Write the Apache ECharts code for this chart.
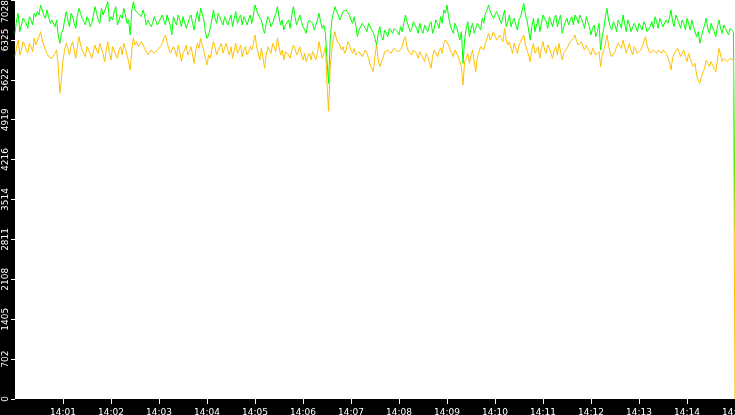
<!DOCTYPE html>
<html>
<head>
<meta charset="utf-8">
<script src="https://cdn.jsdelivr.net/npm/echarts@6/dist/echarts.min.js"></script>
<style>
html,body{margin:0;padding:0;background:#000;}
#chart{width:735px;height:415px;}
</style>
</head>
<body>
<div id="chart"></div>
<script>
// samples every 2 s from 14:00:00: "Even" = t 0,4,8..900 ; "Odd" = t 2,6,10..898
var xTickLabels = ['14:00','14:01','14:02','14:03','14:04','14:05','14:06','14:07','14:08','14:09','14:10','14:11','14:12','14:13','14:14','14:15'];
var yTickLabels = ['0','702','1405','2108','2811','3514','4216','4919','5622','6325','7028'];
var yMax = 7028;

var greenEven = [
6441,6793,6588,6705,6529,6676,6793,6823,6940,6764,
6852,6617,6705,6676,6265,6500,6823,6558,6734,6529,
6881,6705,6588,6676,6617,6911,6676,6881,6734,6999,
6734,6823,6588,6764,6881,6617,6412,6999,6881,6823,
6852,6588,6705,6617,6734,6646,6764,6588,6734,6412,
6646,6764,6558,6705,6617,6764,6500,6823,6881,6676,
6353,6529,6852,6617,6734,6588,6764,6676,6558,6823,
6705,6588,6676,6617,6617,6940,6764,6676,6441,6734,
6558,6705,6911,6588,6500,6617,6529,6911,6588,6764,
6558,6441,6676,6617,6588,6793,6529,6441,5560,6676,
6911,6764,6705,6793,6881,6676,6734,6382,6529,6588,
6470,6558,6441,6235,6558,6323,6470,6529,6441,6500,
6412,6470,6764,6617,6529,6617,6441,6500,6588,6470,
6646,6529,6617,6734,6852,6940,6588,6441,6558,6323,
5913,6529,6382,6617,6470,6588,6705,6793,6940,6793,
6676,6764,6617,6852,6646,6558,6705,6500,6734,6969,
6676,6323,6705,6588,6470,6764,6646,6734,6558,6764,
6676,6441,6646,6588,6734,6764,6617,6705,6529,6646,
6412,6588,6470,6147,6529,6881,6558,6646,6470,6617,
6764,6470,6588,6441,6558,6617,6500,6588,6470,6646,
6734,6529,6676,6588,6617,6852,6558,6734,6529,6617,
6705,6500,6558,6382,6265,6500,6705,6441,6588,6382,
6676,6441,6529,6412,6500,2976
];
var greenOdd = [
6676,6470,6705,6617,6734,6588,6734,6764,6852,6705,
6734,6676,6558,6412,6441,6676,6676,6793,6617,6764,
6793,6646,6734,6558,6764,6793,6617,6764,6911,6646,
6676,6911,6676,6705,6764,6676,6852,6852,6793,6734,
6764,6676,6558,6734,6588,6617,6676,6764,6588,6734,
6588,6676,6734,6529,6705,6617,6705,6646,6793,6470,
6412,6676,6705,6793,6646,6734,6588,6764,6705,6617,
6764,6734,6588,6764,6764,6852,6793,6529,6617,6676,
6617,6793,6734,6676,6588,6676,6764,6734,6676,6646,
6500,6617,6705,6500,6676,6646,6588,5971,6323,6793,
6823,6676,6823,6852,6764,6617,6588,6500,6617,6529,
6617,6500,6353,6441,6382,6500,6382,6558,6529,6470,
6558,6617,6646,6470,6646,6529,6617,6441,6529,6588,
6441,6676,6529,6617,6793,6734,6500,6617,6441,6470,
6323,6646,6529,6441,6617,6500,6617,6852,6823,6705,
6823,6676,6734,6558,6764,6646,6588,6676,6852,6764,
6500,6558,6470,6705,6617,6734,6529,6646,6705,6558,
6764,6558,6705,6676,6588,6705,6764,6617,6734,6558,
6529,6382,6617,6382,6734,6676,6500,6588,6676,6529,
6617,6676,6470,6617,6470,6558,6646,6470,6558,6529,
6646,6705,6558,6676,6705,6646,6764,6617,6676,6500,
6617,6676,6470,6470,6382,6588,6529,6617,6470,6558,
6529,6588,6500,6529,6470
];

var yellowEven = [
6030,6323,6147,6235,6089,6206,6353,6265,6470,6235,
6089,6030,6030,6147,5384,5971,6265,6059,6294,6001,
6382,6147,6030,6147,6001,6235,6089,6177,5942,6294,
5971,6147,6001,6206,6265,6059,5795,6353,6294,6177,
6265,6118,6089,6118,6089,6147,6265,6412,6177,6059,
6147,6235,5942,6147,6059,6206,5913,6265,6353,6147,
5883,6001,6294,6059,6177,6089,6265,6059,6001,6265,
6147,6030,6206,6118,6147,6412,6089,6177,5825,6206,
6089,6235,6353,6059,5971,6147,6001,6235,6059,6206,
5971,5942,6089,6118,5971,6294,6001,6206,5070,6147,
6470,6353,6147,6089,6294,6147,6177,6030,6089,6059,
6089,5883,5766,6235,5854,6001,6089,6147,6118,6147,
6089,6206,6382,6118,6059,6118,6001,6059,5942,6030,
5825,6147,6030,6177,6265,6353,6147,6030,6177,5942,
5531,6001,5913,6147,5766,6118,6177,6265,6441,6382,
6441,6294,6353,6529,6235,6177,6265,6089,6294,6412,
6147,5942,6265,6147,6001,6294,6089,6177,6001,6206,
6265,5971,6118,6206,6323,6412,6235,6294,6147,6177,
6059,6147,6030,5854,6147,6412,6089,6001,6206,6265,
6323,6089,6265,6059,6177,6118,6206,6382,6147,6089,
6118,6147,6089,6177,6059,5795,6089,6177,6030,6147,
5942,6001,5854,5707,5560,5707,5971,5854,5913,5766,
6177,5942,6030,5913,5971,0
];
var yellowOdd = [
6206,6059,6294,6147,6265,6118,6235,6382,6323,6147,
6030,6001,6089,5883,5619,6147,6177,6206,6147,6206,
6235,6089,6206,6089,6118,6147,6265,6089,6147,6089,
6206,6059,6147,6059,6177,5942,6147,6235,6206,6294,
6177,6059,6147,6089,6147,6206,6353,6294,6089,6206,
6030,6118,6089,6235,6118,6059,6147,6177,6235,6001,
6059,6147,6206,6147,6265,6177,6147,6206,6147,6089,
6235,6147,6059,6206,6265,6206,5971,6001,6059,6147,
6265,6118,6206,6147,6118,6059,6147,6177,6118,6059,
6089,6030,5971,6059,6089,6147,6089,5560,5854,6353,
6323,6235,6206,6147,6235,6089,6059,6118,6030,6147,
6001,5825,6059,5971,5942,6118,6147,6089,6177,6118,
6147,6323,6206,6089,6147,6089,6118,6001,6089,5942,
6030,6089,6118,6089,6323,6235,6089,6147,6030,5854,
5942,6089,6059,5942,6030,6206,6147,6353,6323,6470,
6323,6412,6294,6323,6294,6089,6177,6235,6323,6235,
6059,6147,6089,6206,6177,6147,6235,6089,6147,6059,
6118,6089,6177,6294,6353,6294,6265,6206,6235,6118,
6177,6059,6118,6059,6265,6235,6030,6118,6265,6177,
6206,6177,6147,6206,6089,6147,6177,6235,6089,6147,
6089,6118,6147,6089,5942,6001,6059,6118,6089,6030,
6089,5913,5913,5619,5678,5825,5913,5942,5825,5971,
6059,6001,5942,6001,5971
];

function merge(evenArr, oddArr){
  var out = [];
  for (var i = 0; i < evenArr.length; i++){
    out.push([i*4, evenArr[i]]);
    if (i < oddArr.length) out.push([i*4+2, oddArr[i]]);
  }
  return out;
}

var chart = echarts.init(document.getElementById('chart'));
var font = 'DejaVu Sans';
chart.setOption({
  animation:false,
  backgroundColor:'#000000',
  grid:{left:15,right:0,top:0,bottom:16,show:true,backgroundColor:'#ffffff',borderWidth:0,containLabel:false,outerBoundsMode:'none'},
  xAxis:{
    type:'value',min:0,max:900,interval:60,
    axisLine:{show:false},
    splitLine:{show:false},
    axisTick:{show:true,length:5,lineStyle:{color:'#ffffff',width:1}},
    axisLabel:{
      color:'#ffffff',fontFamily:font,fontSize:9,margin:9,
      showMinLabel:false,showMaxLabel:true,
      formatter:function(v){ return xTickLabels[Math.round(v/60)] || ''; }
    }
  },
  yAxis:{
    type:'value',min:0,max:yMax,interval:yMax/10,
    axisLine:{show:false},
    splitLine:{show:false},
    axisTick:{show:true,length:4,lineStyle:{color:'#ffffff',width:1}},
    axisLabel:{
      color:'#ffffff',fontFamily:font,fontSize:9,margin:5,rotate:90,
      showMinLabel:true,showMaxLabel:true,
      alignMaxLabel:'right',
      formatter:function(v){ return yTickLabels[Math.round(v/(yMax/10))]; }
    }
  },
  series:[
    {type:'line',name:'green',data:merge(greenEven,greenOdd),showSymbol:false,symbol:'none',
     lineStyle:{color:'#00ff00',width:1},itemStyle:{color:'#00ff00'}},
    {type:'line',name:'yellow',data:merge(yellowEven,yellowOdd),showSymbol:false,symbol:'none',
     lineStyle:{color:'#ffc000',width:1},itemStyle:{color:'#ffc000'}}
  ]
});
</script>
</body>
</html>
